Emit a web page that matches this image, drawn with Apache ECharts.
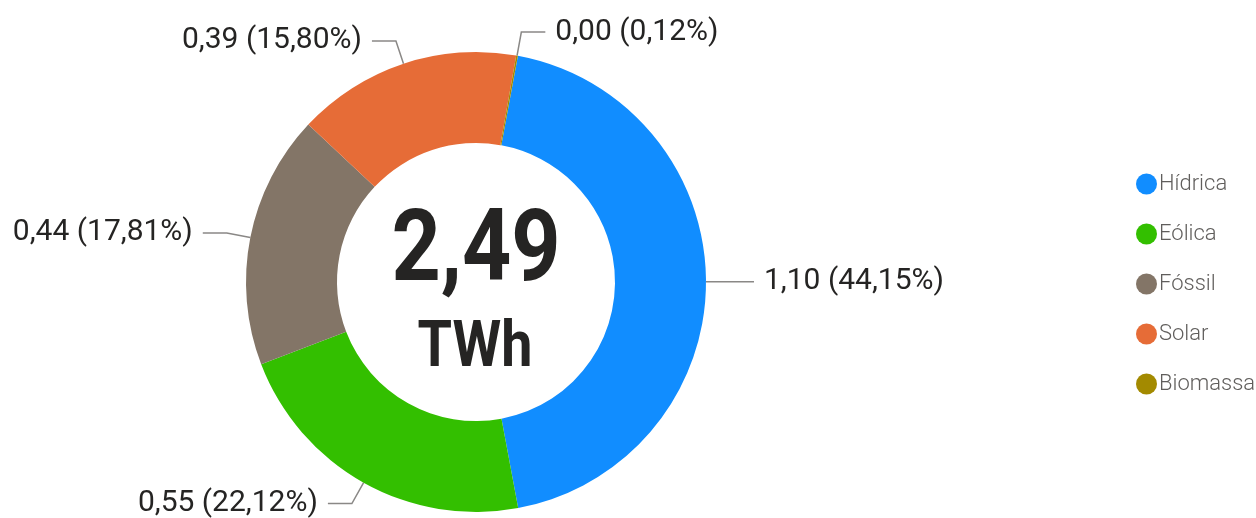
<!DOCTYPE html>
<html lang="pt">
<head>
    <meta charset="UTF-8">
    <title>Geração por fonte</title>
    <style>
        * {
            margin: 0px;
            padding: 0px;
        }

        #main {
            width: 1256px;
            height: 518px;
            background-color: #ffffff;
        }
    </style>
</head>
<body>
<div id="main"></div>
<script src="https://cdn.jsdelivr.net/npm/echarts@6/dist/echarts.min.js"></script>
<script type="text/javascript">
    // dados (TWh)
    var fontes = ['Hídrica', 'Eólica', 'Fóssil', 'Solar', 'Biomassa'];
    var valores = [1.0993, 0.5508, 0.4435, 0.3934, 0.0030];
    var cores = ['#118dff', '#33bf00', '#837567', '#e66c37', '#a38a00'];
    var unidade = 'TWh';

    function virgula(n) {
        return n.toFixed(2).replace('.', ',');
    }

    var total = valores.reduce(function (a, b) { return a + b; }, 0);

    var dados = fontes.map(function (nome, i) {
        return {name: nome, value: valores[i], itemStyle: {color: cores[i]}};
    });

    var myChart = echarts.init(document.getElementById('main'));
    myChart.setOption({
        animation: false,
        legend: {
            orient: 'vertical',
            left: 1131,
            top: 168,
            icon: 'circle',
            itemWidth: 21,
            itemHeight: 21,
            itemGap: 28,
            textStyle: {
                fontFamily: 'Roboto',
                fontWeight: 300,
                fontSize: 22,
                color: '#605e5c',
                padding: [0, 0, 0, -3]
            },
            data: fontes
        },
        graphic: [
            {
                type: 'text',
                z: 100,
                x: 476,
                y: 255,
                scaleX: 0.86,
                style: {
                    text: virgula(total),
                    x: 0,
                    y: 0,
                    textAlign: 'center',
                    textVerticalAlign: 'middle',
                    fontFamily: 'Roboto',
                    fontWeight: 'bold',
                    fontSize: 100,
                    fill: '#252423'
                }
            },
            {
                type: 'text',
                z: 100,
                x: 475,
                y: 350,
                scaleX: 0.87,
                style: {
                    text: unidade,
                    x: 0,
                    y: 0,
                    textAlign: 'center',
                    textVerticalAlign: 'middle',
                    fontFamily: 'Roboto',
                    fontWeight: 'bold',
                    fontSize: 64,
                    fill: '#252423'
                }
            }
        ],
        series: [
            {
                type: 'pie',
                center: [476, 282],
                radius: [139, 230],
                startAngle: 79.5,
                clockwise: true,
                percentPrecision: 2,
                avoidLabelOverlap: false,
                label: {
                    formatter: function (p) {
                        return virgula(p.value) + ' (' + virgula(p.percent) + '%)';
                    },
                    fontFamily: 'Roboto',
                    fontSize: 30,
                    color: '#252423',
                    distanceToLabelLine: 10
                },
                labelLine: {
                    length: 24,
                    length2: 24,
                    lineStyle: {color: '#8a8886', width: 1.5}
                },
                data: dados
            }
        ]
    });
</script>
</body>
</html>
